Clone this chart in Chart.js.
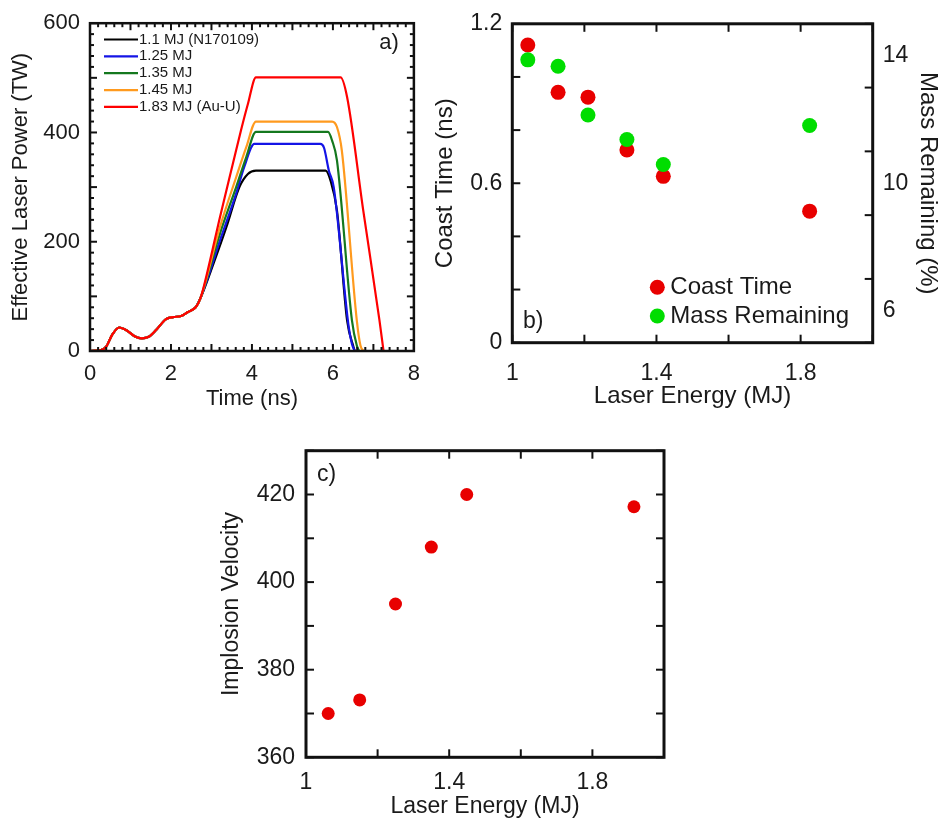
<!DOCTYPE html>
<html>
<head>
<meta charset="utf-8">
<script src="https://cdn.jsdelivr.net/npm/chart.js@4.4.1/dist/chart.umd.min.js"></script>
<style>
  body { margin: 0; background: #fff; }
  #page { position: relative; width: 940px; height: 820px; }
  .panel { position: absolute; }
</style>
</head>
<body>
<div id="page">
  <div class="panel" style="left:0;top:0"><canvas id="chartA" width="430" height="420"></canvas></div>
  <div class="panel" style="left:430px;top:0"><canvas id="chartB" width="510" height="420"></canvas></div>
  <div class="panel" style="left:200px;top:420px"><canvas id="chartC" width="480" height="400"></canvas></div>
</div>
<script>
// ---- panel a: laser pulse shapes ----
const footTime  = [0, 0.25, 0.4, 0.55, 0.72, 0.9, 1.1, 1.28, 1.45, 1.65, 1.87, 2.05, 2.25, 2.41, 2.61, 2.73];
const footPower = [0, 1, 8, 30, 43, 38, 27, 23, 26, 40, 58, 62, 64, 71, 80, 97];

const pulseLabels = ['1.1 MJ (N170109)', '1.25 MJ', '1.35 MJ', '1.45 MJ', '1.83 MJ (Au-U)'];
const pulseColors = ['#000000', '#1414e6', '#14781e', '#ff9a1e', '#ff0000'];

const time110  = [3.05, 3.37, 3.69, 3.9, 4.1, 5.82, 5.94, 6.10, 6.35, 6.51, 6.54];
const power110 = [160, 227, 300, 324, 330, 330, 312, 257, 56, 7, 0];
const time125  = [3.21, 3.61, 3.81, 4.06, 5.69, 5.78, 5.90, 6.02, 6.39, 6.47, 6.54];
const power125 = [202, 288, 337, 379, 379, 372, 330, 300, 44, 13, 0];
const time135  = [3.21, 3.61, 3.86, 4.1, 5.88, 5.98, 6.10, 6.47, 6.59, 6.65];
const power135 = [215, 300, 355, 401, 401, 385, 349, 56, 10, 0];
const time145  = [3.21, 3.61, 3.86, 4.1, 5.98, 6.10, 6.22, 6.59, 6.68, 6.76];
const power145 = [227, 318, 373, 420, 420, 410, 367, 56, 10, 0];
const time183  = [2.89, 3.21, 3.53, 3.73, 3.9, 4.1, 6.19, 6.35, 6.75, 7.15, 7.25];
const power183 = [142, 245, 343, 404, 452, 501, 501, 465, 257, 56, 0];

const timeTicks  = [0, 2, 4, 6, 8];
const powerTicks = [0, 200, 400, 600];

// ---- panel b: coast time and mass remaining ----
const energyB       = [1.043, 1.127, 1.21, 1.318, 1.419, 1.825];
const coastTime     = [1.12, 0.942, 0.924, 0.725, 0.626, 0.495];
const massRemaining = [13.87, 13.67, 12.14, 11.37, 10.59, 11.81];
const energyTicks   = [1, 1.4, 1.8];
const coastTicks    = [0, 0.6, 1.2];
const massTicks     = [6, 10, 14];

// ---- panel c: implosion velocity ----
const energyC            = [1.062, 1.15, 1.25, 1.35, 1.449, 1.916];
const implosionVelocity  = [370, 373.1, 395, 408, 420, 417.2];
const velocityTicks      = [360, 380, 400, 420];

const FONT = 'Liberation Sans, Arial, Helvetica, sans-serif';
const INK = '#1a1a1a';

function toPoints(xs, ys) {
  return xs.map((x, i) => ({x: x, y: ys[i]}));
}

// draws the black box and the inward tick marks from the chart scales
const framePlugin = {
  id: 'frame',
  afterDatasetsDraw(chart, args, opts) {
    const {ctx, chartArea: a, scales} = chart;
    ctx.save();
    ctx.strokeStyle = '#111';
    ctx.lineWidth = 2;
    opts.marks.forEach(m => {
      const scale = scales[m.axis];
      const n = Math.round((scale.max - scale.min) / m.step);
      for (let i = 0; i <= n; i++) {
        const v = scale.min + i * m.step;
        const isMajor = m.major && Math.abs(v / m.major - Math.round(v / m.major)) < 1e-6;
        const len = isMajor ? m.majorLen : m.len;
        const p = scale.getPixelForValue(v);
        ctx.beginPath();
        if (m.side === 'bottom') { ctx.moveTo(p, a.bottom); ctx.lineTo(p, a.bottom - len); }
        if (m.side === 'top') { ctx.moveTo(p, a.top); ctx.lineTo(p, a.top + len); }
        if (m.side === 'left') { ctx.moveTo(a.left, p); ctx.lineTo(a.left + len, p); }
        if (m.side === 'right') { ctx.moveTo(a.right, p); ctx.lineTo(a.right - len, p); }
        ctx.stroke();
      }
    });
    ctx.lineWidth = opts.frameWidth;
    ctx.strokeRect(a.left, a.top, a.right - a.left, a.bottom - a.top);
    ctx.restore();
  }
};

// panel letter and in-plot legend
const notesPlugin = {
  id: 'notes',
  afterDraw(chart, args, opts) {
    const {ctx, chartArea: a} = chart;
    ctx.save();
    ctx.fillStyle = INK;
    ctx.textBaseline = 'middle';
    opts.texts.forEach(t => {
      ctx.font = t.size + 'px ' + FONT;
      ctx.textAlign = t.align || 'left';
      const x = t.fromRight ? a.right - t.dx : a.left + t.dx;
      const y = t.fromBottom ? a.bottom - t.dy : a.top + t.dy;
      if (t.line) {
        ctx.strokeStyle = t.line;
        ctx.lineWidth = 2.2;
        ctx.beginPath();
        ctx.moveTo(x - 35, y);
        ctx.lineTo(x - 1, y);
        ctx.stroke();
      }
      if (t.dot) {
        ctx.fillStyle = t.dot;
        ctx.beginPath();
        ctx.arc(x - 13, y, 7.5, 0, Math.PI * 2);
        ctx.fill();
        ctx.fillStyle = INK;
      }
      ctx.fillText(t.text, x, y);
    });
    ctx.restore();
  }
};

function axis(opts) {
  const o = {
    type: 'linear',
    min: opts.min,
    max: opts.max,
    position: opts.position,
    grid: {display: false, drawTicks: false},
    border: {display: false},
    afterBuildTicks: s => { s.ticks = opts.ticks.map(v => ({value: v})); },
    afterFit: s => {
      if (opts.width !== undefined) s.width = opts.width;
      if (opts.height !== undefined) s.height = opts.height;
    },
    ticks: {
      autoSkip: false, maxRotation: 0, padding: opts.tickPad,
      color: INK, font: {family: FONT, size: opts.tickSize},
      callback: v => String(v)
    },
    title: {
      display: true, text: opts.title, color: INK,
      font: {family: FONT, size: opts.titleSize, lineHeight: 1.2},
      padding: opts.titlePad
    }
  };
  return o;
}

const baseOptions = {
  responsive: false,
  animation: false,
  events: [],
  devicePixelRatio: 1
};

// ---- chart a ----
const pulseTimes  = [time110, time125, time135, time145, time183];
const pulsePowers = [power110, power125, power135, power145, power183];

new Chart(document.getElementById('chartA'), {
  type: 'line',
  data: {
    datasets: pulseLabels.map((label, i) => ({
      label: label,
      data: toPoints(footTime.concat(pulseTimes[i]), footPower.concat(pulsePowers[i])),
      borderColor: pulseColors[i],
      borderWidth: 2.2,
      pointRadius: 0,
      cubicInterpolationMode: 'monotone',
      order: pulseLabels.length - 1 - i
    }))
  },
  options: Object.assign({}, baseOptions, {
    layout: {padding: {top: 23, right: 8, left: 0, bottom: 0}},
    scales: {
      x: axis({min: 0, max: 8, position: 'bottom', ticks: timeTicks, height: 69, tickPad: 10,
        tickSize: 22, title: 'Time (ns)', titleSize: 22, titlePad: {top: 0, bottom: 8}}),
      y: axis({min: 0, max: 600, position: 'left', ticks: powerTicks, width: 90, tickPad: 10,
        tickSize: 22, title: 'Effective Laser Power (TW)', titleSize: 22, titlePad: {top: 8, bottom: 0}})
    },
    plugins: {
      legend: {display: false},
      tooltip: {enabled: false},
      frame: {
        frameWidth: 2.5,
        marks: [
          {axis: 'x', side: 'bottom', step: 0.2, major: 1, len: 4, majorLen: 7},
          {axis: 'x', side: 'top', step: 0.2, major: 1, len: 4, majorLen: 7},
          {axis: 'y', side: 'left', step: 20, major: 100, len: 4, majorLen: 7},
          {axis: 'y', side: 'right', step: 20, major: 100, len: 4, majorLen: 7}
        ]
      },
      notes: {
        texts: [{text: 'a)', size: 22, align: 'right', fromRight: true, dx: 15, dy: 20}].concat(
          pulseLabels.map((label, i) => ({text: label, size: 15, dx: 49, dy: 16.3 + i * 16.85, line: pulseColors[i]})))
      }
    }
  }),
  plugins: [framePlugin, notesPlugin]
});

// ---- chart b ----
new Chart(document.getElementById('chartB'), {
  type: 'scatter',
  data: {
    datasets: [
      {label: 'Mass Remaining', data: toPoints(energyB, massRemaining), yAxisID: 'y2',
        backgroundColor: '#00dd00', borderWidth: 0, pointRadius: 7.5, order: 0},
      {label: 'Coast Time', data: toPoints(energyB, coastTime), yAxisID: 'y',
        backgroundColor: '#e80000', borderWidth: 0, pointRadius: 7.5, order: 1}
    ]
  },
  options: Object.assign({}, baseOptions, {
    layout: {padding: {top: 16.7, right: 0, left: 0, bottom: 0}},
    scales: {
      x: axis({min: 1, max: 2, position: 'bottom', ticks: energyTicks, height: 77.3, tickPad: 17,
        tickSize: 23, title: 'Laser Energy (MJ)', titleSize: 24, titlePad: {top: 0, bottom: 9}}),
      y: axis({min: 0, max: 1.2, position: 'left', ticks: coastTicks, width: 82.3, tickPad: 10,
        tickSize: 23, title: 'Coast Time (ns)', titleSize: 24, titlePad: {top: 1, bottom: 0}}),
      y2: axis({min: 5, max: 15, position: 'right', ticks: massTicks, width: 67.3, tickPad: 10,
        tickSize: 23, title: 'Mass Remaining (%)', titleSize: 24, titlePad: {top: -2, bottom: 0}})
    },
    plugins: {
      legend: {display: false},
      tooltip: {enabled: false},
      frame: {
        frameWidth: 3,
        marks: [
          {axis: 'x', side: 'bottom', step: 0.2, len: 8},
          {axis: 'x', side: 'top', step: 0.2, len: 8},
          {axis: 'y', side: 'left', step: 0.2, len: 8},
          {axis: 'y2', side: 'right', step: 2, len: 8}
        ]
      },
      notes: {
        texts: [
          {text: 'b)', size: 23, dx: 10.7, dy: 21, fromBottom: true},
          {text: 'Coast Time', size: 24, dx: 158, dy: 55.4, fromBottom: true, dot: '#e80000'},
          {text: 'Mass Remaining', size: 24, dx: 158, dy: 26.7, fromBottom: true, dot: '#00dd00'}
        ]
      }
    }
  }),
  plugins: [framePlugin, notesPlugin]
});

// ---- chart c ----
new Chart(document.getElementById('chartC'), {
  type: 'scatter',
  data: {
    datasets: [
      {label: 'Implosion Velocity', data: toPoints(energyC, implosionVelocity),
        backgroundColor: '#e80000', borderWidth: 0, pointRadius: 6.5}
    ]
  },
  options: Object.assign({}, baseOptions, {
    layout: {padding: {top: 30.7, right: 16, left: 0, bottom: 0}},
    scales: {
      x: axis({min: 1, max: 2, position: 'bottom', ticks: energyTicks, height: 62.7, tickPad: 12,
        tickSize: 23, title: 'Laser Energy (MJ)', titleSize: 23, titlePad: {top: 0, bottom: 0}}),
      y: axis({min: 360, max: 430, position: 'left', ticks: velocityTicks, width: 106, tickPad: 11,
        tickSize: 23, title: 'Implosion Velocity', titleSize: 23, titlePad: {top: 18, bottom: 0}})
    },
    plugins: {
      legend: {display: false},
      tooltip: {enabled: false},
      frame: {
        frameWidth: 3,
        marks: [
          {axis: 'x', side: 'bottom', step: 0.2, len: 8},
          {axis: 'x', side: 'top', step: 0.2, len: 8},
          {axis: 'y', side: 'left', step: 10, len: 8},
          {axis: 'y', side: 'right', step: 10, len: 8}
        ]
      },
      notes: {
        texts: [{text: 'c)', size: 23, dx: 11, dy: 24.3}]
      }
    }
  }),
  plugins: [framePlugin, notesPlugin]
});
</script>
</body>
</html>
